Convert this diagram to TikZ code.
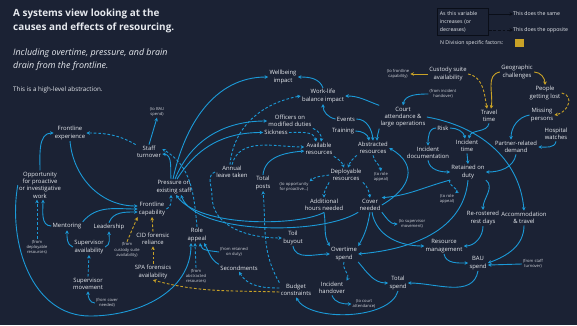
\documentclass[tikz,border=0pt]{standalone}
\usepackage{fontspec}
\setmainfont{Open Sans}
\usetikzlibrary{arrows.meta}
\definecolor{bg}{HTML}{1B2234}
\definecolor{txt}{HTML}{E6E9EE}
\definecolor{linkblue}{HTML}{1B9AD8}
\definecolor{gold}{HTML}{C9A227}
\definecolor{legline}{HTML}{0A0E18}
\tikzset{
  lbl/.style={text=txt, font=\fontsize{5.9}{7.4}\selectfont, align=center, inner sep=1.2pt},
  sm/.style={text=txt!88!bg, font=\fontsize{4.1}{5.1}\selectfont, align=center, inner sep=1pt},
  legtxt/.style={text=txt, font=\fontsize{5.2}{7.6}\selectfont, inner sep=0pt},
  lnkp/.style={draw=linkblue, line width=0.9pt, -{Stealth[length=3.5pt,width=3.6pt]}},
  lnkn/.style={lnkp, dash pattern=on 2.7pt off 1.9pt},
  goldp/.style={lnkp, draw=gold},
  goldn/.style={lnkn, draw=gold},
  legp/.style={draw=legline, line width=0.9pt, -{Stealth[length=3.5pt,width=3.6pt]}},
  legn/.style={legp, dash pattern=on 2.7pt off 1.9pt},
}
\begin{document}
\begin{tikzpicture}[x=1pt,y=1pt]
\fill[bg] (0,0) rectangle (577,-325);
\useasboundingbox (0,0) rectangle (577,-325);

% heading
\node[anchor=west, text=txt, font=\fontsize{9.9}{11}\selectfont\bfseries, inner sep=0pt] (t1) at (13,-14) {A systems view looking at the};
\node[anchor=west, text=txt, font=\fontsize{9.9}{11}\selectfont\bfseries, inner sep=0pt] (t2) at (13,-28) {causes and effects of resourcing.};
\node[anchor=west, text=txt, font=\fontsize{8.9}{10}\selectfont\itshape, inner sep=0pt] (t3) at (13,-53) {Including overtime, pressure, and brain};
\node[anchor=west, text=txt, font=\fontsize{8.9}{10}\selectfont\itshape, inner sep=0pt] (t4) at (13,-66) {drain from the frontline.};
\node[anchor=west, text=txt, font=\fontsize{6.3}{7}\selectfont, inner sep=0pt] (t5) at (13,-90) {This is a high-level abstraction.};

% key
\node[legtxt, draw=legline, line width=0.8pt, anchor=north west, align=left,
      minimum width=51pt, minimum height=27pt, text width=46pt, inner sep=2.5pt] (legbox) at (437,-8) {As this variable\\increases (or\\decreases)};
\node[legtxt, anchor=west] (lsame) at (513,-14) {This does the same};
\node[legtxt, anchor=west] (lopp) at (513,-30) {This does the opposite};
\draw[legp] (legbox.east |- lsame) -- (lsame.west);
\draw[legn] (legbox.east |- lopp) -- (lopp.west);
\node[legtxt, anchor=west] (ndiv) at (440,-43) {N Division specific factors:};
\node[fill=gold, minimum width=9pt, minimum height=8pt, inner sep=0pt] (goldkey) at (519.5,-43) {};

% variables
\node[lbl] (well) at (283,-77) {Wellbeing\\impact};
\node[lbl] (wlb) at (323,-96) {Work-life\\balance impact};
\node[sm] (tofc) at (398,-74) {(to frontline\\capability)};
\node[lbl] (cust) at (448,-74) {Custody suite\\availability};
\node[sm] (fromih) at (443,-94) {(from incident\\handover)};
\node[lbl] (geo) at (517,-72) {Geographic\\challenges};
\node[lbl] (lost) at (545,-93) {People\\getting lost};
\node[lbl] (court) at (403,-117) {Court\\attendance \&\\large operations};
\node[lbl] (travel) at (489,-116) {Travel\\time};
\node[lbl] (missing) at (542,-115) {Missing\\persons};
\node[lbl] (hosp) at (556,-134) {Hospital\\watches};
\node[lbl] (risk) at (443,-128) {Risk};
\node[lbl] (idoc) at (428,-153) {Incident\\documentation};
\node[lbl] (itime) at (467,-146) {Incident\\time};
\node[lbl] (partner) at (516,-147) {Partner-related\\demand};
\node[lbl] (retained) at (468,-172) {Retained on\\duty};
\node[sm] (tobau) at (157,-112) {(to BAU\\spend)};
\node[lbl] (fexp) at (70,-133) {Frontline\\experience};
\node[lbl] (turn) at (149,-152) {Staff\\turnover};
\node[lbl] (mod) at (290,-121) {Officers on\\modified duties};
\node[lbl] (sick) at (276,-132.5) {Sickness};
\node[lbl] (events) at (346,-119) {Events};
\node[lbl] (train) at (343,-131) {Training};
\node[lbl] (avail) at (319,-149) {Available\\resources};
\node[lbl] (abst) at (373,-148) {Abstracted\\resources};
\node[lbl] (deploy) at (346,-175) {Deployable\\resources};
\node[sm] (tora1) at (381,-177) {(to role\\appeal)};
\node[lbl] (press) at (174,-187) {Pressure on\\existing staff};
\node[lbl] (annual) at (232,-172) {Annual\\leave taken};
\node[lbl] (posts) at (263,-183) {Total\\posts};
\node[sm] (toopp) at (294,-187) {(to opportunity\\for proactive...)};
\node[lbl] (addh) at (324,-205) {Additional\\hours needed};
\node[lbl] (cover) at (370,-205) {Cover\\needed};
\node[sm] (tora2) at (447,-199) {(to role\\appeal)};
\node[lbl] (rest) at (483,-218) {Re-rostered\\rest days};
\node[lbl] (accom) at (524,-218) {Accommodation\\\& travel};
\node[lbl] (opp) at (40,-185) {Opportunity\\for proactive\\or investigative\\work};
\node[lbl] (fcap) at (152,-209) {Frontline\\capability};
\node[lbl] (ment) at (67,-226) {Mentoring};
\node[lbl] (lead) at (109,-227) {Leadership};
\node[lbl] (cid) at (153,-239) {CID forensic\\reliance};
\node[sm] (fromcs) at (127,-250) {(from\\custody suite\\availability)};
\node[lbl] (supav) at (89,-247) {Supervisor\\availability};
\node[sm] (fromdr) at (37,-247) {(from\\deployable\\resources)};
\node[lbl] (role) at (197,-235) {Role\\appeal};
\node[lbl] (spa) at (153,-272) {SPA forensics\\availability};
\node[sm] (fromrod) at (234,-252) {(from retained\\on duty)};
\node[lbl] (toil) at (293,-238) {Toil\\buyout};
\node[lbl] (second) at (239,-268) {Secondments};
\node[sm] (fromabs) at (196,-276) {(from\\abstracted\\resources)};
\node[lbl] (supmov) at (88,-284) {Supervisor\\movement};
\node[sm] (fromcov) at (107,-303) {(from cover\\needed)};
\node[lbl] (budget) at (296,-290) {Budget\\constraints};
\node[lbl] (ot) at (344,-254) {Overtime\\spend};
\node[lbl] (ih) at (332,-288) {Incident\\handover};
\node[sm] (tocourt) at (364,-304) {(to court\\attendance)};
\node[lbl] (resm) at (444,-246) {Resource\\management};
\node[sm] (tosm) at (412,-224) {(to supervisor\\movement)};
\node[lbl] (bau) at (478,-263) {BAU\\spend};
\node[sm] (fromst) at (533,-264) {(from staff\\turnover)};
\node[lbl] (total) at (398,-283) {Total\\spend};

% pressure and its effects
\draw[lnkp] ([xshift=-3pt]press.north) to[out=95,in=-5] ([yshift=-2pt]turn.east);
\draw[lnkp] ([xshift=-1pt]press.north) to[out=78,in=180] (well.west);
\draw[lnkp] ([xshift=1pt]press.north) to[out=68,in=180] (mod.west);
\draw[lnkp] ([xshift=3pt]press.north) to[out=58,in=180] (sick.west);
\draw[lnkp] (turn.north) -- (tobau.south);
\draw[lnkn] (turn.north west) to[out=150,in=0] (fexp.east);
\draw[lnkn] (role.north) to[out=95,in=-30] ([yshift=3pt]turn.east);
\draw[lnkn] (fcap.east) to[out=20,in=-90] ([xshift=-3pt]press.south);
\draw[lnkp] (addh.south) .. controls (300,-226) and (200,-228) .. ([xshift=2pt]press.south);
\draw[lnkp] (cover.south west) .. controls (320,-236) and (195,-234) .. ([xshift=7pt]press.south);

% frontline capability
\draw[lnkp] (fexp.south) to[out=-85,in=180] ([yshift=3pt]fcap.west);
\draw[lnkp] (opp.north) to[out=90,in=180] (fexp.west);
\draw[lnkp] (ment.north east) to[out=50,in=180] (fcap.west);
\draw[lnkp] (lead.north) to[out=70,in=180] ([yshift=-3pt]fcap.west);
\draw[lnkp] (supav.west) to[out=160,in=-90] (ment.south);
\draw[lnkp] (supav.east) to[out=20,in=-90] (lead.south);
\draw[lnkn] (supmov.north) -- (supav.south);
\draw[lnkp] (fromcov.west) to[out=180,in=-90] (supmov.south);
\draw[lnkn] (fromdr.north) -- ([xshift=-3pt]opp.south);
\draw[lnkp] (ment.west) to[out=180,in=-90] ([xshift=3pt]opp.south);
\draw[lnkp] (opp.west) to[out=-100,in=180] (90,-316) to[out=0,in=-90] ([xshift=-6pt]role.south);
\draw[lnkn] (fromabs.north) -- ([xshift=-2pt]role.south);
\draw[lnkp] (fromrod.west) to[out=170,in=-80] ([xshift=3pt]role.south);
\draw[lnkp] (second.north west) to[out=150,in=-60] ([xshift=7pt]role.south);

% N Division factors
\draw[goldn] (cid.north) -- (fcap.south);
\draw[goldn] (spa.north) -- (cid.south);
\draw[goldn] (fromcs.north) -- (fcap.south west);
\draw[goldn] ([yshift=-2pt]budget.west) to[out=178,in=-15] (spa.south);
\draw[goldp] (cust.west) -- (tofc.east);
\draw[goldn] (cust.east) to[out=-10,in=100] ([xshift=-2pt]travel.north);
\draw[goldp] (geo.west) to[out=190,in=80] ([xshift=2pt]travel.north);
\draw[goldp] (geo.east) to[out=0,in=90] (lost.north);
\draw[goldn] (lost.east) to[out=-10,in=10,looseness=1.5] (missing.east);

% demand and abstraction
\draw[lnkp] (fromih.west) to[out=180,in=80] (court.north);
\draw[lnkp] (court.north west) to[out=160,in=0] (wlb.east);
\draw[lnkp] (court.south west) to[out=-100,in=90] ([xshift=4pt]abst.north);
\draw[lnkp] (events.east) to[out=0,in=95] (abst.north);
\draw[lnkp] (train.east) to[out=0,in=100] ([xshift=-4pt]abst.north);
\draw[lnkp] (events.west) to[out=170,in=-90] (wlb.south);
\draw[lnkp] (wlb.north) to[out=110,in=0] (well.east);
\draw[lnkp] (court.east) to[out=-10,in=95] (accom.north);
\draw[lnkp] (risk.west) to[out=180,in=90] (idoc.north);
\draw[lnkp] (risk.east) to[out=0,in=100] ([xshift=-2pt]itime.north);
\draw[lnkp] (travel.south) to[out=-100,in=80] ([xshift=2pt]itime.north);
\draw[lnkp] (missing.west) to[out=190,in=90] ([xshift=-5pt]partner.north);
\draw[lnkp] (hosp.south) to[out=-100,in=0] (partner.east);
\draw[lnkp] (idoc.south) to[out=-80,in=180] (retained.west);
\draw[lnkp] (itime.south) -- (retained.north);
\draw[lnkp] (partner.south) to[out=-100,in=0] (retained.east);
\draw[lnkn] (retained.south west) to[out=-130,in=40] (tora2.north east);
\draw[lnkp] (retained.south east) to[out=-40,in=90] (rest.north);
\draw[lnkp] (retained.south west) to[out=195,in=5] (cover.north east);
\draw[lnkp] (retained.south) to[out=-95,in=5] (ot.east);
\draw[lnkp] (cover.east) to[out=30,in=-30,looseness=1.5] (abst.east);

% available and deployable resources
\draw[lnkn] (abst.south west) to[out=-140,in=70] ([xshift=2pt]deploy.north);
\draw[lnkn] (avail.south east) to[out=-30,in=110] ([xshift=-2pt]deploy.north);
\draw[lnkn] (abst.south) to[out=-80,in=100] (tora1.north);
\draw[lnkn] (mod.south east) to[out=-20,in=80] ([xshift=2pt]avail.north);
\draw[lnkn] (sick.east) to[out=0,in=100] ([xshift=-3pt]avail.north);
\draw[lnkn] (annual.north) to[out=75,in=180] ([yshift=2pt]avail.west);
\draw[lnkn] ([xshift=-2pt]annual.north) to[out=85,in=190] (wlb.west);
\draw[lnkp] (posts.north) to[out=85,in=185] ([yshift=-2pt]avail.west);
\draw[lnkn] (deploy.south west) to[out=-120,in=90] (addh.north);
\draw[lnkn] (deploy.west) to[out=190,in=40] (toopp.north east);
\draw[lnkn] (deploy.south east) to[out=-40,in=100] (cover.north);

% spend
\draw[lnkp] (addh.south) to[out=-80,in=120] (ot.north west);
\draw[lnkp] (cover.south) to[out=-100,in=60] (ot.north east);
\draw[lnkp] ([xshift=2pt]cover.south) to[out=-80,in=180] (resm.west);
\draw[lnkp] (cover.south east) to[out=-50,in=180] (tosm.west);
\draw[lnkp] (toil.south) to[out=-80,in=180] (ot.west);
\draw[lnkn] (annual.west) to[out=200,in=90] (212,-196) to[out=-90,in=180] (toil.west);
\draw[lnkn] (ot.south) to[out=-110,in=60] (ih.north east);
\draw[lnkp] (ih.south) to[out=-70,in=180] (tocourt.west);
\draw[lnkp] (ot.south east) to[out=-50,in=180] (total.west);
\draw[lnkp] (rest.south) to[out=-90,in=0] (resm.east);
\draw[lnkp] (resm.south) to[out=-80,in=180] (bau.west);
\draw[lnkp] (accom.south) to[out=-90,in=20] (bau.east);
\draw[lnkp] (fromst.west) -- ([yshift=-2pt]bau.east);
\draw[lnkp] (bau.south) to[out=-100,in=0] (total.east);
\draw[lnkp] (total.south) .. controls (390,-320) and (310,-322) .. (budget.south);
\draw[lnkn] (budget.north west) to[out=120,in=-85] (posts.south);
\draw[lnkn] ([yshift=2pt]budget.west) to[out=180,in=-60] (second.south);
\end{tikzpicture}
\end{document}
